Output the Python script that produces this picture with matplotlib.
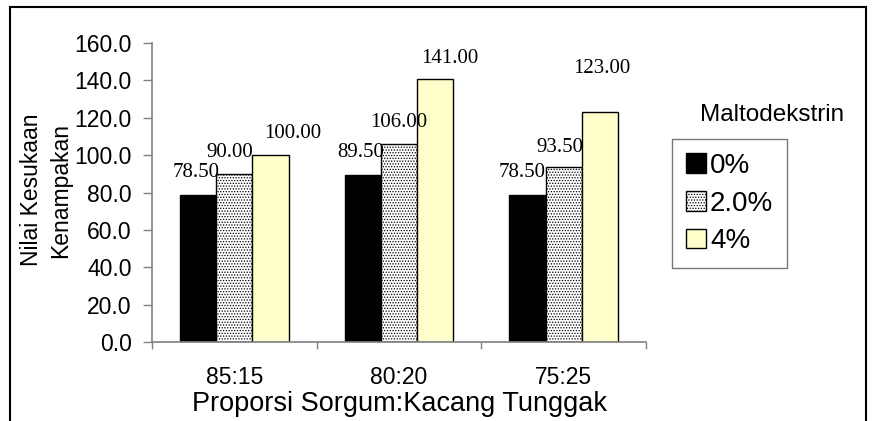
import matplotlib
matplotlib.use("Agg")
import matplotlib.pyplot as plt
import numpy as np
from matplotlib.patches import Rectangle

categories = ["85:15", "80:20", "75:25"]
series_names = ["0%", "2.0%", "4%"]
values_0 = [78.50, 89.50, 78.50]
values_2 = [90.00, 106.00, 93.50]
values_4 = [100.00, 141.00, 123.00]
yticks = [0, 20, 40, 60, 80, 100, 120, 140, 160]

series = [values_0, values_2, values_4]
# label offsets in pixels (dx, dy) relative to bar top center
label_offsets = [
    [(-2, 18), (-2, 18), (-5, 18)],
    [(-5, 17), (0, 17), (-4, 15)],
    [(22, 17), (15, 16), (2, 39)],
]
styles = [
    dict(color="black", edgecolor="black", hatch=None),
    dict(color="white", edgecolor="black", hatch="......"),
    dict(color="#FFFFCC", edgecolor="black", hatch=None),
]

plt.rcParams['font.family'] = ['Liberation Sans', 'DejaVu Sans']
plt.rcParams['hatch.linewidth'] = 0.6

fig = plt.figure(figsize=(8.74, 4.21), dpi=100)
ax = fig.add_axes([152/874, 1-342/421, 494/874, 299/421])

x = np.arange(len(categories))
w = 0.22
for i, (vals, st) in enumerate(zip(series, styles)):
    pos = x + (i - 1) * w
    ax.bar(pos, vals, width=w, facecolor=st["color"], edgecolor=st["edgecolor"],
           hatch=st["hatch"], linewidth=1.0, label=series_names[i], zorder=2)
    for j, (p, v) in enumerate(zip(pos, vals)):
        dx, dy = label_offsets[i][j]
        ax.annotate(f"{v:.2f}", xy=(p, v), xytext=(dx * 0.72, dy * 0.72),
                    textcoords="offset points", ha="center", va="baseline",
                    fontsize=15, family="Liberation Serif")

ax.set_xlim(-0.5, 2.5)
ax.set_ylim(0, 160)
ax.set_yticks(yticks)
ax.set_yticklabels([f"{t:.1f}" for t in yticks])
ax.set_xticks(x)
ax.set_xticklabels(categories)
ax.set_xticks([-0.5, 0.5, 1.5, 2.5], minor=True)
ax.tick_params(axis="x", which="major", length=0, pad=17, labelsize=16.5)
ax.tick_params(axis="x", which="minor", length=5, width=1, color="#808080")
ax.tick_params(axis="y", length=6.5, width=1, color="#808080", labelsize=16.5, pad=8)
for s in ["top", "right"]:
    ax.spines[s].set_visible(False)
for s in ["left", "bottom"]:
    ax.spines[s].set_color("#808080")
    ax.spines[s].set_linewidth(1.2)

ax.set_xlabel("Proporsi Sorgum:Kacang Tunggak", fontsize=19.5, labelpad=2)
fig.text(46/874, 1-190/421, "Nilai Kesukaan\nKenampakan", rotation=90,
         ha="center", va="center", fontsize=16.5, linespacing=1.35)

fig.text(700/874, 1-121/421, "Maltodekstrin", fontsize=17.5, ha="left", va="baseline")
leg = ax.legend(loc="upper left", bbox_to_anchor=(672/874, 1-139/421),
                bbox_transform=fig.transFigure, borderaxespad=0, fontsize=20,
                frameon=True, fancybox=False, edgecolor="#555555",
                handlelength=0.72, handleheight=0.72, handletextpad=0.15,
                labelspacing=0.42, borderpad=0.5)
leg.get_frame().set_linewidth(1.0)

bottom = -0.1
top = 1 - 7/421
fig.add_artist(Rectangle((10/874, bottom), 856/874, top - bottom,
                         transform=fig.transFigure, fill=False, edgecolor="black",
                         linewidth=1.5, clip_on=False))

fig.savefig("out.png", dpi=100)
